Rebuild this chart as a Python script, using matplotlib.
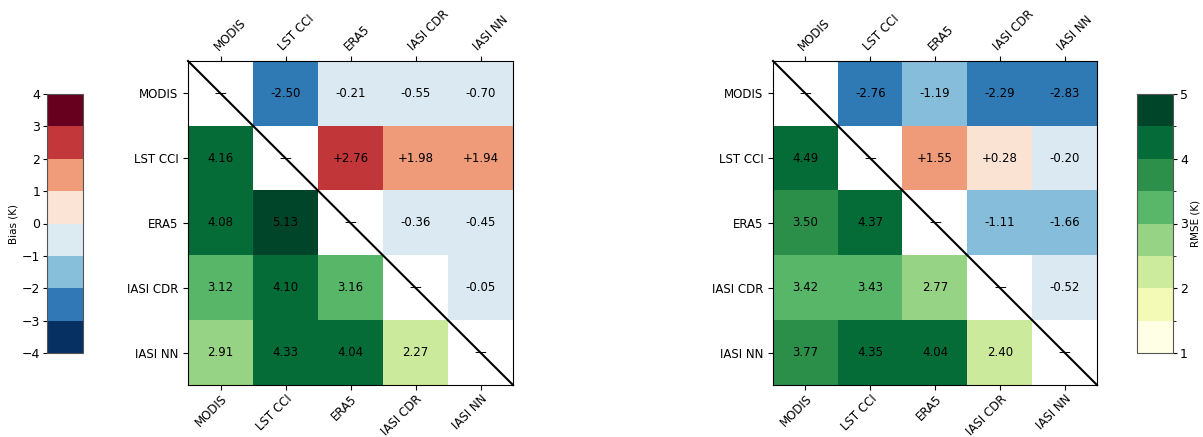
import numpy as np
import matplotlib
matplotlib.use("Agg")
import matplotlib.pyplot as plt
from matplotlib.colors import BoundaryNorm

labels = ["MODIS", "LST CCI", "ERA5", "IASI CDR", "IASI NN"]

# Left panel: upper triangle = bias, lower triangle = RMSE
bias_left = [
    [np.nan, -2.50, -0.21, -0.55, -0.70],
    [np.nan, np.nan, 2.76, 1.98, 1.94],
    [np.nan, np.nan, np.nan, -0.36, -0.45],
    [np.nan, np.nan, np.nan, np.nan, -0.05],
    [np.nan, np.nan, np.nan, np.nan, np.nan],
]
rmse_left = [
    [np.nan, np.nan, np.nan, np.nan, np.nan],
    [4.16, np.nan, np.nan, np.nan, np.nan],
    [4.08, 5.13, np.nan, np.nan, np.nan],
    [3.12, 4.10, 3.16, np.nan, np.nan],
    [2.91, 4.33, 4.04, 2.27, np.nan],
]
# Right panel
bias_right = [
    [np.nan, -2.76, -1.19, -2.29, -2.83],
    [np.nan, np.nan, 1.55, 0.28, -0.20],
    [np.nan, np.nan, np.nan, -1.11, -1.66],
    [np.nan, np.nan, np.nan, np.nan, -0.52],
    [np.nan, np.nan, np.nan, np.nan, np.nan],
]
rmse_right = [
    [np.nan, np.nan, np.nan, np.nan, np.nan],
    [4.49, np.nan, np.nan, np.nan, np.nan],
    [3.50, 4.37, np.nan, np.nan, np.nan],
    [3.42, 3.43, 2.77, np.nan, np.nan],
    [3.77, 4.35, 4.04, 2.40, np.nan],
]

bias_bounds = np.arange(-4, 5, 1)
rmse_bounds = np.arange(1, 5.01, 0.5)
bias_cmap = plt.get_cmap("RdBu_r", 8)
rmse_cmap = plt.get_cmap("YlGn", 8)
bias_norm = BoundaryNorm(bias_bounds, bias_cmap.N)
rmse_norm = BoundaryNorm(rmse_bounds, rmse_cmap.N)

FS = 8.5
W, H = 1203, 437
fig = plt.figure(figsize=(W / 100, H / 100), dpi=100)

def px(x0, y0, x1, y1):
    return [x0 / W, 1 - y1 / H, (x1 - x0) / W, (y1 - y0) / H]

def panel(ax, bias, rmse):
    b = np.ma.masked_invalid(np.array(bias, dtype=float))
    r = np.ma.masked_invalid(np.array(rmse, dtype=float))
    n = len(labels)
    ax.imshow(r, cmap=rmse_cmap, norm=rmse_norm, aspect="auto",
              interpolation="nearest")
    imb = ax.imshow(b, cmap=bias_cmap, norm=bias_norm, aspect="auto",
                    interpolation="nearest")
    for i in range(n):
        for j in range(n):
            if i == j:
                txt = "\u2014"
            elif j > i:
                v = bias[i][j]
                txt = f"{v:+.2f}" if v > 0 else f"{v:.2f}"
            else:
                txt = f"{rmse[i][j]:.2f}"
            ax.text(j, i, txt, ha="center", va="center", fontsize=FS,
                    color="black")
    ax.plot([0, 1], [1, 0], transform=ax.transAxes, color="black", lw=1.5,
            clip_on=False)
    ax.set_xlim(-0.5, n - 0.5)
    ax.set_ylim(n - 0.5, -0.5)
    ax.set_xticks(range(n))
    ax.set_yticks(range(n))
    ax.set_yticklabels(labels, fontsize=FS)
    ax.tick_params(axis="x", top=True, bottom=True, labeltop=True,
                   labelbottom=True, pad=2)
    ax.set_xticklabels(labels, fontsize=FS)
    for lab in ax.get_xticklabels():
        lab.set_rotation(45)
        lab.set_ha("right")
        lab.set_rotation_mode("anchor")
    # top labels
    for t in ax.xaxis.get_major_ticks():
        t.label2.set_rotation(45)
        t.label2.set_ha("left")
        t.label2.set_rotation_mode("anchor")
        t.label2.set_fontsize(FS)
    return imb

ax1 = fig.add_axes(px(188, 61, 513, 385))
ax2 = fig.add_axes(px(773, 61, 1097, 385))
panel(ax1, bias_left, rmse_left)
panel(ax2, bias_right, rmse_right)

cax1 = fig.add_axes(px(47, 94, 83, 353))
sm1 = plt.cm.ScalarMappable(norm=bias_norm, cmap=bias_cmap)
cb1 = fig.colorbar(sm1, cax=cax1, ticks=bias_bounds)
cax1.yaxis.set_ticks_position("left")
cax1.yaxis.set_label_position("left")
cax1.tick_params(labelsize=9, length=3, pad=2)
cb1.set_label("Bias (K)", fontsize=7.5, labelpad=2)
cb1.outline.set_edgecolor("#555555")

cax2 = fig.add_axes(px(1137, 94, 1173, 353))
sm2 = plt.cm.ScalarMappable(norm=rmse_norm, cmap=rmse_cmap)
cb2 = fig.colorbar(sm2, cax=cax2, ticks=[1, 2, 3, 4, 5])
cax2.tick_params(labelsize=9, length=3, pad=2)
cb2.set_label("RMSE (K)", fontsize=7.5, labelpad=2)
cb2.outline.set_edgecolor("#555555")

fig.savefig("out.png", dpi=100)
